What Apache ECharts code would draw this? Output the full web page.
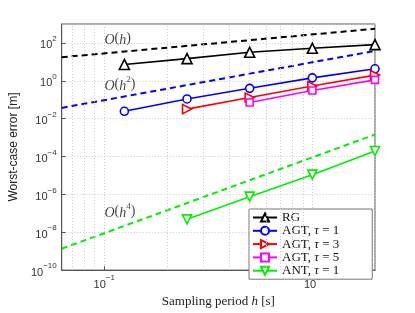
<!DOCTYPE html>
<html><head><meta charset="utf-8">
<script src="https://cdn.jsdelivr.net/npm/echarts@6/dist/echarts.min.js"></script>
<style>html,body{margin:0;padding:0;background:#fff}#c{width:415px;height:313px}</style>
</head><body><div id="c"></div>
<script>
// sampling periods h [s]
const hAll = [0.125, 0.25, 0.5, 1, 2];
const hFrom025 = [0.25, 0.5, 1, 2];
const hFrom05 = [0.5, 1, 2];
// worst-case errors [m]
const rgVals = [7.3, 14.8, 32, 52, 81];
const agt1Vals = [0.0245, 0.11, 0.4, 1.43, 4.3];
const agt3Vals = [0.032, 0.13, 0.53, 2.0];
const agt5Vals = [0.071, 0.305, 1.12];
const ant1Vals = [4.8e-8, 7.6e-7, 1.1e-5, 1.95e-4];
// reference slopes (end points)
const refH = [0.0625, 2];
const ohVals = [17.5, 560];
const oh2Vals = [0.037, 38];
const oh4Vals = [1.35e-9, 1.45e-3];
// annotation anchors [h, error]
const annPos = [[0.116, 185], [0.119, 0.63], [0.119, 1.25e-7]];
const annText = ['{i|O}({i|h})', '{i|O}({i|h}{s|2})', '{i|O}({i|h}{s|4})'];
// minor grid positions on x
const xMinor = [0.07, 0.08, 0.09, 0.2, 0.3, 0.4, 0.5, 0.6, 0.7, 0.8, 0.9];

const zip = (xs, ys) => xs.map((x, i) => [x, ys[i]]);
const gridCol = '#c8c8c8';
const axisCol = '#555';

function tickFmt(v) {
  const l = Math.log10(v), e = Math.round(l);
  if (Math.abs(l - e) > 1e-6) return '';
  return '{b|10}{s|' + (e < 0 ? '\u2212' + (-e) : e) + '}';
}
const tickRich = {
  b: {fontSize: 11, fontFamily: 'Liberation Sans', color: '#333', lineHeight: 16, verticalAlign: 'bottom'},
  s: {fontSize: 8, fontFamily: 'Liberation Sans', color: '#333', lineHeight: 9, verticalAlign: 'top'}
};

function mkSeries(name, data, color, symbol, size, rot) {
  return {
    name, type: 'line', data, symbol, symbolSize: size,
    symbolRotate: rot || 0,
    lineStyle: {color, width: 1.6},
    itemStyle: {color: '#fff', borderColor: color, borderWidth: 1.6},
    z: 5
  };
}
function dashed(data, color) {
  return {type: 'line', data, symbol: 'none', silent: true,
    lineStyle: {color, width: 2, type: [6, 4]}, z: 4};
}

const chart = echarts.init(document.getElementById('c'), null, {renderer: 'canvas'});
chart.setOption({
  animation: false,
  backgroundColor: '#fff',
  grid: {left: 55, right: 40, top: 24, bottom: 36, show: true, borderColor: axisCol, borderWidth: 1, backgroundColor: 'transparent'},
  xAxis: {
    type: 'log', logBase: 10, min: 0.0625, max: 2,
    name: '{r|Sampling period }{i|h}{r| [s]}', nameLocation: 'middle', nameGap: 19,
    nameTextStyle: {rich: {
      r: {fontFamily: 'Liberation Serif', fontSize: 13, color: '#222'},
      i: {fontFamily: 'Liberation Serif', fontStyle: 'italic', fontSize: 13, color: '#222'}}},
    axisLine: {lineStyle: {color: axisCol}},
    axisTick: {inside: true, length: 4, lineStyle: {color: axisCol}},
    axisLabel: {formatter: tickFmt, rich: tickRich, margin: 4, showMinLabel: false, showMaxLabel: false},
    splitLine: {show: true, lineStyle: {color: gridCol, type: [1, 2]}}
  },
  yAxis: {
    type: 'log', logBase: 10, min: 1e-10, max: 1e3, interval: 2,
    name: 'Worst-case error [m]', nameLocation: 'middle', nameGap: 28,
    nameTextStyle: {fontFamily: 'Liberation Sans', fontSize: 12, color: '#222'},
    axisLine: {lineStyle: {color: axisCol}},
    axisTick: {inside: true, length: 4, lineStyle: {color: axisCol}},
    axisLabel: {formatter: tickFmt, rich: tickRich, margin: 5, showMaxLabel: false},
    splitLine: {show: true, lineStyle: {color: gridCol, type: [1, 2]}}
  },
  legend: {
    orient: 'vertical', left: 249, top: 209,
    data: ['RG', 'AGT, τ = 1', 'AGT, τ = 3', 'AGT, τ = 5', 'ANT, τ = 1'],
    backgroundColor: '#fff', borderColor: '#777', borderWidth: 1, borderRadius: 0,
    padding: [2, 33, 2, 3], itemGap: 0.3, itemWidth: 24, itemHeight: 10,
    formatter: n => n.replace('τ', '{i|τ}'),
    textStyle: {fontFamily: 'Liberation Serif', fontSize: 13, color: '#111', lineHeight: 12,
      rich: {i: {fontFamily: 'Liberation Serif', fontStyle: 'italic', fontSize: 13, color: '#111'}}}
  },
  series: [
    Object.assign(dashed(zip(refH, ohVals), '#000'), {
      markLine: {silent: true, symbol: 'none', label: {show: false},
        lineStyle: {color: gridCol, type: [1, 2], width: 1},
        data: xMinor.map(v => ({xAxis: v}))}
    }),
    dashed(zip(refH, oh2Vals), '#0000ff'),
    dashed(zip(refH, oh4Vals), '#00ee00'),
    mkSeries('RG', zip(hAll, rgVals), '#000', 'triangle', 10),
    mkSeries('AGT, τ = 1', zip(hAll, agt1Vals), '#0000ff', 'circle', 8),
    mkSeries('AGT, τ = 3', zip(hFrom025, agt3Vals), '#ff0000', 'triangle', 9, -90),
    mkSeries('AGT, τ = 5', zip(hFrom05, agt5Vals), '#ff00ff', 'rect', 7),
    mkSeries('ANT, τ = 1', zip(hFrom025, ant1Vals), '#00ee00', 'triangle', 9, 180),
    {type: 'scatter', symbolSize: 0, silent: true, data: annPos,
      label: {show: true, position: 'inside', formatter: p => annText[p.dataIndex],
        rich: {
          i: {fontFamily: 'Liberation Serif', fontStyle: 'italic', fontSize: 14, color: '#111', lineHeight: 18, verticalAlign: 'bottom'},
          s: {fontFamily: 'Liberation Serif', fontSize: 9, color: '#111', lineHeight: 10, verticalAlign: 'top'}
        },
        fontFamily: 'Liberation Serif', fontSize: 14, color: '#111', lineHeight: 18}}
  ]
});
</script></body></html>
